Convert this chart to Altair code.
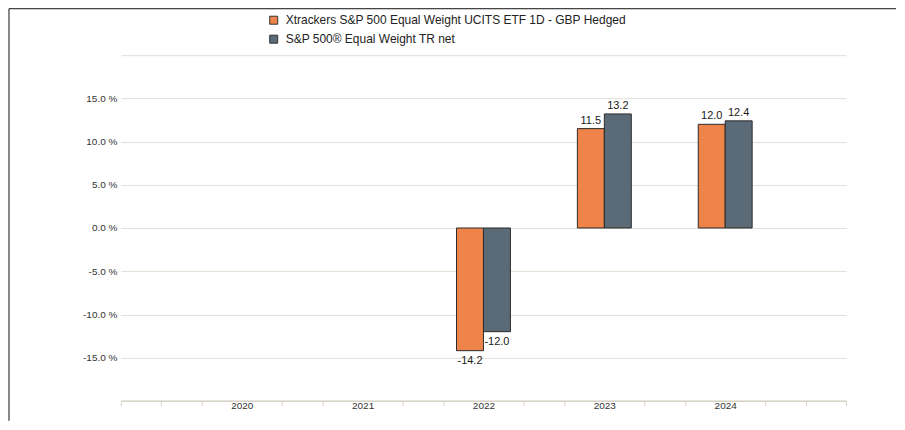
import altair as alt
import pandas as pd

years = [2022, 2023, 2024]
series = ["Xtrackers S&P 500 Equal Weight UCITS ETF 1D - GBP Hedged",
          "S&P 500® Equal Weight TR net"]
fund_returns = [-14.2, 11.5, 12.0]
index_returns = [-12.0, 13.2, 12.4]
colors = ["#EE8449", "#5A6A77"]
y_ticks = [-20, -15, -10, -5, 0, 5, 10, 15, 20]
x_ticks = [2019 + k / 3 for k in range(19)]

rows = []
for i, vals in enumerate([fund_returns, index_returns]):
    for yr, v in zip(years, vals):
        rows.append({"year": yr, "series": series[i], "order": i, "value": v})
df = pd.DataFrame(rows)

BW = 0.223
W, H = 726, 346

is_year = "abs(datum.value - round(datum.value)) < 0.01 && datum.value > 2019.5 && datum.value < 2024.5"

base = alt.Chart(df).transform_calculate(
    x0=f"datum.year + (datum.order - 1) * {BW}",
    x1=f"datum.year + datum.order * {BW}",
    xm=f"datum.year + (datum.order - 0.5) * {BW}",
    label="(datum.value < 0 ? '-' : '') + format(abs(datum.value), '.1f')",
)

xscale = alt.Scale(domain=[2019, 2025], nice=False, zero=False)
yscale = alt.Scale(domain=[-20, 20], nice=False)

xaxis = alt.Axis(
    values=x_ticks, title=None, grid=False,
    labelExpr=f"{is_year} ? format(round(datum.value), 'd') : ''",
    tickColor={"condition": {"test": is_year, "value": "transparent"}, "value": "#d6d2c6"},
    tickSize=5, domainColor="#d6d2c6", domainWidth=1.5,
    labelFontSize=10, labelColor="#333333", labelPadding=-5, labelFlush=False,
    labelOverlap=False,
)
yaxis = alt.Axis(
    values=y_ticks, title=None, domain=False, ticks=False,
    labelExpr="abs(datum.value) > 19 ? '' : (datum.value < 0 ? '-' : '') + format(abs(datum.value), '.1f') + ' %'",
    labelFontSize=10, labelColor="#333333", labelPadding=4,
    gridColor="#e2dfd8", gridWidth=1,
)

bars = base.mark_rect(stroke="#2b2b2b", strokeWidth=1).encode(
    x=alt.X("x0:Q", scale=xscale, axis=xaxis),
    x2="x1:Q",
    y=alt.Y("value:Q", scale=yscale, axis=yaxis),
    y2=alt.datum(0),
    color=alt.Color(
        "series:N",
        scale=alt.Scale(domain=series, range=colors),
        sort=series,
        legend=alt.Legend(
            title=None, orient="none", legendX=147, legendY=-41,
            direction="vertical", symbolType="square", symbolSize=64,
            symbolStrokeColor="#333333", symbolStrokeWidth=1,
            labelFontSize=12, labelColor="#222222", labelOffset=6,
            rowPadding=7, padding=0, labelLimit=600,
        ),
    ),
)

pos_text = base.transform_filter("datum.value >= 0").mark_text(
    fontSize=11, color="#1a1a1a", baseline="alphabetic", dy=-5
).encode(x=alt.X("xm:Q", scale=xscale),
         y=alt.Y("value:Q", scale=yscale), text="label:N")

neg_text = base.transform_filter("datum.value < 0").mark_text(
    fontSize=11, color="#1a1a1a", baseline="alphabetic", dy=13
).encode(x=alt.X("xm:Q", scale=xscale),
         y=alt.Y("value:Q", scale=yscale), text="label:N")

one = alt.Chart(pd.DataFrame({"a": [0]}))
frame_left = one.mark_rule(color="#111111", strokeWidth=1).encode(
    x=alt.value(-112), y=alt.value(-46.5), y2=alt.value(366))
frame_top = one.mark_rule(color="#111111", strokeWidth=1).encode(
    x=alt.value(-112), x2=alt.value(776), y=alt.value(-46.5))

chart = alt.layer(bars, pos_text, neg_text, frame_left, frame_top).properties(
    width=W, height=H, padding=0
).configure(font="Liberation Sans").configure_view(stroke=None)

chart.save("out.html", embed_options={"renderer": "svg", "actions": False})
